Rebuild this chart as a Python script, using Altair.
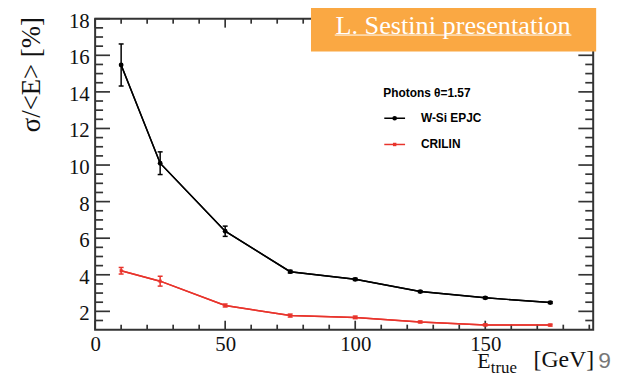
import altair as alt
import pandas as pd
import numpy as np

# ---------------- data ----------------
energy = [10, 25, 50, 75, 100, 125, 150, 175]
wsi = [15.47, 10.1, 6.38, 4.17, 3.75, 3.08, 2.74, 2.48]
wsi_err = [1.15, 0.62, 0.28, 0.07, 0.06, 0.05, 0.05, 0.05]
crilin = [4.22, 3.65, 2.32, 1.77, 1.67, 1.42, 1.26, 1.25]
crilin_err = [0.18, 0.27, 0.08, 0.08, 0.07, 0.05, 0.05, 0.05]
series_names = ["W-Si EPJC", "CRILIN"]
series_colors = ["#000000", "#e8342c"]

x_major = [0, 50, 100, 150]
x_minor = [v for v in range(10, 191, 10) if v % 50 != 0]
y_major = [2, 4, 6, 8, 10, 12, 14, 16, 18]
y_minor = [v for v in np.arange(1.5, 18.0, 0.5).tolist() if v % 2 != 0]

legend_title = "Photons θ=1.57"
banner_text = "L. Sestini presentation"
y_title = "σ/<E> [%]"
x_title_main = "E"
x_title_sub = "true"
x_title_unit = "[GeV]"
slide_number = "9"

# ---------------- layout ----------------
W, H = 503, 314
xs = alt.Scale(domain=[0, 191.5], nice=False, zero=False)
ys = alt.Scale(domain=[1, 18], nice=False, zero=False)
AX = "#333333"

rows = []
for name, vals, errs in [(series_names[0], wsi, wsi_err), (series_names[1], crilin, crilin_err)]:
    for e, v, er in zip(energy, vals, errs):
        rows.append({"energy": e, "value": v, "lo": v - er, "hi": v + er, "series": name})
df = pd.DataFrame(rows)
caps = pd.concat([
    df.assign(cap=df["lo"]),
    df.assign(cap=df["hi"]),
])

cscale = alt.Scale(domain=series_names, range=series_colors)
color = alt.Color("series:N", scale=cscale, legend=None)

xaxis = alt.Axis(values=x_major, tickSize=0, domain=False, grid=False, labelFont="Liberation Serif",
                 labelFontSize=21, labelColor="#111111", labelPadding=4, labelFlush=False,
                 labelOverlap=False, title=None)
yaxis = alt.Axis(values=y_major, tickSize=0, domain=False, grid=False, labelFont="Liberation Serif",
                 labelFontSize=21, labelColor="#111111", labelPadding=6, labelFlush=False,
                 labelOverlap=False, labelOffset=2.5, title=None)


def X(field):
    return alt.X(field, scale=xs, axis=xaxis)


def Y(field):
    return alt.Y(field, scale=ys, axis=yaxis)


one = pd.DataFrame({"k": [0]})

lines = alt.Chart(df).mark_line(strokeWidth=1.5).encode(
    x=X("energy:Q"), y=Y("value:Q"), color=color)
errbars = alt.Chart(df).mark_rule(strokeWidth=1.5).encode(
    x=X("energy:Q"), y=Y("lo:Q"), y2="hi:Q", color=color)
capmarks = alt.Chart(caps).mark_rule(strokeWidth=1.5, xOffset=-2.5, x2Offset=2.5).encode(
    x=X("energy:Q"), x2="energy:Q", y=Y("cap:Q"), color=color)
pts_black = alt.Chart(df).transform_filter(alt.datum.series == series_names[0]).mark_circle(
    size=24, opacity=1, color=series_colors[0]).encode(x=X("energy:Q"), y=Y("value:Q"))
pts_red = alt.Chart(df).transform_filter(alt.datum.series == series_names[1]).mark_square(
    size=10, opacity=1, color=series_colors[1]).encode(x=X("energy:Q"), y=Y("value:Q"))


def xticks(vals, length):
    d = pd.DataFrame({"t": vals})
    b = alt.Chart(d).mark_rule(color=AX, strokeWidth=1.7).encode(
        x=X("t:Q"), y=alt.value(H), y2=alt.value(H - length))
    t = alt.Chart(d).mark_rule(color=AX, strokeWidth=1.7).encode(
        x=X("t:Q"), y=alt.value(0), y2=alt.value(length))
    return [b, t]


def yticks(vals, length):
    d = pd.DataFrame({"t": vals})
    l = alt.Chart(d).mark_rule(color=AX, strokeWidth=1.7).encode(
        y=Y("t:Q"), x=alt.value(0), x2=alt.value(length))
    r = alt.Chart(d).mark_rule(color=AX, strokeWidth=1.7).encode(
        y=Y("t:Q"), x=alt.value(W), x2=alt.value(W - length))
    return [l, r]


frame = alt.Chart(one).mark_rect(fillOpacity=0, stroke=AX, strokeWidth=2).encode(
    x=alt.value(0), x2=alt.value(W), y=alt.value(0), y2=alt.value(H))


def text(s, x, y, **kw):
    return alt.Chart(pd.DataFrame({"s": [s]})).mark_text(**kw).encode(
        text="s:N", x=alt.value(x), y=alt.value(y))


def legend_entry(name, col, y, marker):
    ln = alt.Chart(one).mark_rule(color=col, strokeWidth=1.5).encode(
        x=alt.value(292), x2=alt.value(313), y=alt.value(y))
    if marker == "circle":
        mk = alt.Chart(one).mark_circle(size=22, opacity=1, color=col).encode(
            x=alt.value(302.5), y=alt.value(y))
    else:
        mk = alt.Chart(one).mark_square(size=12, opacity=1, color=col).encode(
            x=alt.value(302.5), y=alt.value(y))
    tx = text(name, 329, y, font="Liberation Sans", fontWeight="bold", fontSize=12,
              align="left", baseline="middle", color="#000000")
    return [ln, mk, tx]


legend = [text(legend_title, 291, 75, font="Liberation Sans", fontWeight="bold", fontSize=12,
               align="left", baseline="middle", color="#000000")]
legend += legend_entry(series_names[0], series_colors[0], 100.5, "circle")
legend += legend_entry(series_names[1], series_colors[1], 127, "square")

banner = alt.Chart(one).mark_rect(color="#FAA843", opacity=1).encode(
    x=alt.value(218), x2=alt.value(506), y=alt.value(-17), y2=alt.value(33))
banner_txt = text(banner_text, 361.5, 7, font="Liberation Serif", fontSize=26.5, align="center",
                  baseline="middle", color="#ffffff")
banner_ul = alt.Chart(one).mark_rule(color="#ffffff", strokeWidth=1).encode(
    x=alt.value(242), x2=alt.value(481), y=alt.value(16.5))

ytitle = text(y_title, -64, 56.5, font="Liberation Serif", fontSize=27, angle=270,
              align="center", baseline="middle", color="#111111")
xt1 = text(x_title_main, 386, 353, font="Liberation Serif", fontSize=22, align="left",
           baseline="alphabetic", color="#111111")
xt2 = text(x_title_sub, 399.5, 358, font="Liberation Serif", fontSize=17, align="left",
           baseline="alphabetic", color="#111111")
xt3 = text(x_title_unit, 504, 352, font="Liberation Serif", fontSize=24, align="right",
           baseline="alphabetic", color="#111111")
slide = text(slide_number, 508, 353, font="Liberation Sans", fontSize=23, align="left",
             baseline="alphabetic", color="#777777")

layers = [lines]
layers += xticks(x_major, 9) + xticks(x_minor, 5)
layers += yticks(y_major, 15) + yticks(y_minor, 8)
layers += [frame, errbars, capmarks, lines, pts_black, pts_red]
layers += legend
layers += [banner, banner_txt, banner_ul, ytitle, xt1, xt2, xt3, slide]

chart = alt.layer(*layers).properties(
    width=W, height=H,
    autosize=alt.AutoSizeParams(type="none"),
    padding={"left": 88, "top": 9, "right": 20, "bottom": 46},
).configure_view(strokeWidth=0)

chart.save("out.html", embed_options={"renderer": "svg", "actions": False})
